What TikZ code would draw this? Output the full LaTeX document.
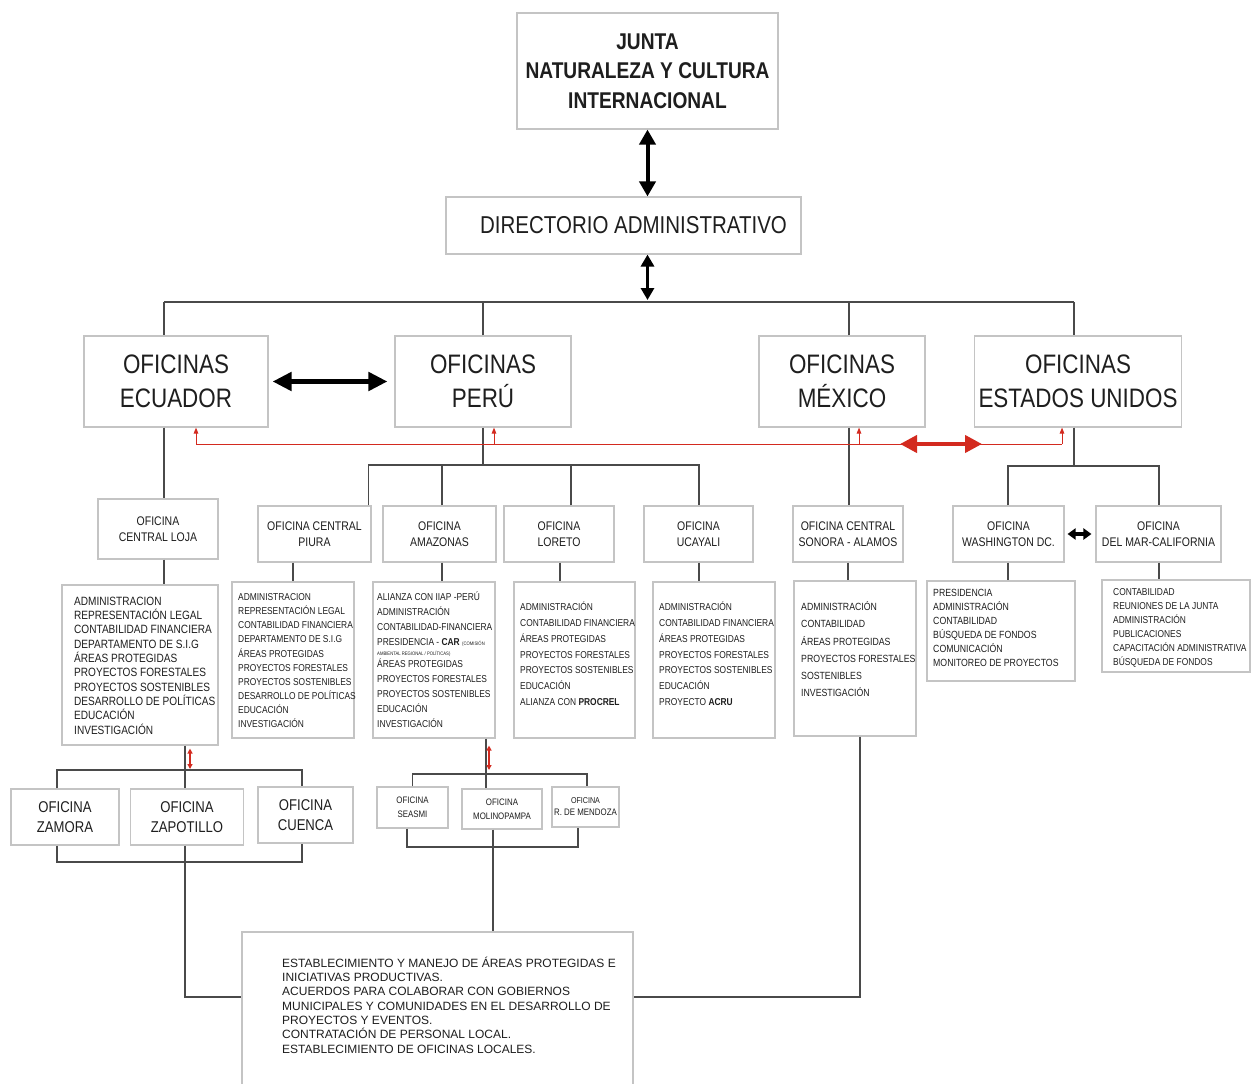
\documentclass[tikz,border=0pt]{standalone}
\usepackage{fontspec}
\setmainfont{Liberation Sans}[FakeStretch=0.84]
\newfontfamily\widefont{Liberation Sans}
\usetikzlibrary{arrows.meta}
\definecolor{boxc}{HTML}{C4C4C4}
\definecolor{linec}{HTML}{4A4A4A}
\definecolor{txt}{HTML}{1E1E1E}
\definecolor{redc}{HTML}{D32A1F}
\begin{document}
\begin{tikzpicture}[x=1pt,y=-1pt,
  box/.style={draw=boxc, line width=1.1pt, fill=white, inner sep=0pt, align=center, text=txt},
  conn/.style={draw=linec, line width=1.3pt},
  lst/.style={anchor=base west, align=left, inner sep=0pt, text=txt},
  head/.style={box, minimum height=91pt, font=\fontsize{26.7}{34}\selectfont},
  sub/.style={box, minimum height=56pt, font=\fontsize{12.5}{16}\selectfont},
  bigarrow/.style={draw=black, line width=4pt, {Triangle[length=15pt,width=16pt]}-{Triangle[length=15pt,width=16pt]}},
  redarrow/.style={draw=redc, line width=4pt, {Triangle[length=17pt,width=17pt]}-{Triangle[length=17pt,width=17pt]}},
  redup/.style={draw=redc, line width=1pt, -{Triangle[length=6pt,width=4.5pt]}},
  reddbl/.style={draw=redc, line width=1.6pt, {Triangle[length=5pt,width=5pt]}-{Triangle[length=5pt,width=5pt]}}
]
\useasboundingbox (0,0) rectangle (1258,1084);

% top
\node[box, minimum width=261pt, minimum height=116pt, font=\bfseries\fontsize{22.8}{29.5}\selectfont] (junta) at (647.5,71) {JUNTA\\NATURALEZA Y CULTURA\\INTERNACIONAL};
\node[box, minimum width=355pt, minimum height=57pt, font=\fontsize{24.4}{28}\selectfont] (dir) at (623.5,225.5) {\hspace*{20pt}DIRECTORIO ADMINISTRATIVO};

% heading offices
\node[head, minimum width=184pt] (ecu) at (176,381.5) {OFICINAS\\ECUADOR};
\node[head, minimum width=176pt] (peru) at (483,381.5) {OFICINAS\\PERÚ};
\node[head, minimum width=166pt] (mex) at (842,381.5) {OFICINAS\\MÉXICO};
\node[head, minimum width=207pt] (usa) at (1078,381.5) {OFICINAS\\ESTADOS UNIDOS};

% sub offices
\node[sub, minimum width=120pt, minimum height=60pt] (loja) at (158,529) {OFICINA\\CENTRAL LOJA};
\node[sub, minimum width=113pt] (piura) at (314.5,534) {OFICINA CENTRAL\\PIURA};
\node[sub, minimum width=113pt] (amaz) at (439.5,534) {OFICINA\\AMAZONAS};
\node[sub, minimum width=110pt] (loreto) at (559,534) {OFICINA\\LORETO};
\node[sub, minimum width=109pt] (ucay) at (698.5,534) {OFICINA\\UCAYALI};
\node[sub, minimum width=110pt] (sonora) at (848,534) {OFICINA CENTRAL\\SONORA - ALAMOS};
\node[sub, minimum width=111pt] (wash) at (1008.5,534) {OFICINA\\WASHINGTON DC.};
\node[sub, minimum width=125pt] (delmar) at (1158.5,534) {OFICINA\\DEL MAR-CALIFORNIA};

% list boxes
\node[box, minimum width=156pt, minimum height=160pt] (lojal) at (140,665) {};
\node[box, minimum width=122pt, minimum height=156pt] (piural) at (293,660) {};
\node[box, minimum width=122pt, minimum height=156pt] (amazl) at (434,660) {};
\node[box, minimum width=121pt, minimum height=156pt] (loretol) at (574.5,660) {};
\node[box, minimum width=122pt, minimum height=156pt] (ucayl) at (714,660) {};
\node[box, minimum width=122pt, minimum height=155pt] (sonoral) at (855,658.5) {};
\node[box, minimum width=148pt, minimum height=100pt] (washl) at (1001,631) {};
\node[box, minimum width=148pt, minimum height=92pt] (delmarl) at (1176,626) {};

% list texts (anchored at the baseline of the last line)
\node[lst, font=\fontsize{12}{14.3}\selectfont] (lojat) at (74,734) {ADMINISTRACION\\REPRESENTACIÓN LEGAL\\CONTABILIDAD FINANCIERA\\DEPARTAMENTO DE S.I.G\\ÁREAS PROTEGIDAS\\PROYECTOS FORESTALES\\PROYECTOS SOSTENIBLES\\DESARROLLO DE POLÍTICAS\\EDUCACIÓN\\INVESTIGACIÓN};
\node[lst, font=\fontsize{10}{14.1}\selectfont] (piurat) at (238,727.5) {ADMINISTRACION\\REPRESENTACIÓN LEGAL\\CONTABILIDAD FINANCIERA\\DEPARTAMENTO DE S.I.G\\ÁREAS PROTEGIDAS\\PROYECTOS FORESTALES\\PROYECTOS SOSTENIBLES\\DESARROLLO DE POLÍTICAS\\EDUCACIÓN\\INVESTIGACIÓN};
\node[lst, font=\fontsize{10}{15}\selectfont] (amazt) at (377,727.6) {ALIANZA CON IIAP -PERÚ\\ADMINISTRACIÓN\\CONTABILIDAD-FINANCIERA\\PRESIDENCIA - \textbf{CAR} {\fontsize{5}{6}\selectfont (COMISIÓN}\\[-5pt]{\fontsize{5}{6}\selectfont AMBIENTAL REGIONAL / POLÍTICAS)}\\[-3pt]ÁREAS PROTEGIDAS\\PROYECTOS FORESTALES\\PROYECTOS SOSTENIBLES\\EDUCACIÓN\\INVESTIGACIÓN};
\node[lst, font=\fontsize{10}{15.8}\selectfont] (loretot) at (520,705.4) {ADMINISTRACIÓN\\CONTABILIDAD FINANCIERA\\ÁREAS PROTEGIDAS\\PROYECTOS FORESTALES\\PROYECTOS SOSTENIBLES\\EDUCACIÓN\\ALIANZA CON \textbf{PROCREL}};
\node[lst, font=\fontsize{10}{15.8}\selectfont] (ucayt) at (659,705.4) {ADMINISTRACIÓN\\CONTABILIDAD FINANCIERA\\ÁREAS PROTEGIDAS\\PROYECTOS FORESTALES\\PROYECTOS SOSTENIBLES\\EDUCACIÓN\\PROYECTO \textbf{ACRU}};
\node[lst, font=\fontsize{10.4}{17.2}\selectfont] (sonorat) at (801,696.7) {ADMINISTRACIÓN\\CONTABILIDAD\\ÁREAS PROTEGIDAS\\PROYECTOS FORESTALES\\SOSTENIBLES\\INVESTIGACIÓN};
\node[lst, font=\fontsize{10.4}{14}\selectfont] (washt) at (933,666.8) {PRESIDENCIA\\ADMINISTRACIÓN\\CONTABILIDAD\\BÚSQUEDA DE FONDOS\\COMUNICACIÓN\\MONITOREO DE PROYECTOS};
\node[lst, font=\fontsize{10}{14}\selectfont] (delmart) at (1113,665.8) {CONTABILIDAD\\REUNIONES DE LA JUNTA\\ADMINISTRACIÓN\\PUBLICACIONES\\CAPACITACIÓN ADMINISTRATIVA\\BÚSQUEDA DE FONDOS};

% Ecuador local offices
\node[box, minimum width=108pt, minimum height=56pt, font=\fontsize{15.6}{19.5}\selectfont] (zamora) at (65,817) {OFICINA\\ZAMORA};
\node[box, minimum width=113pt, minimum height=56pt, font=\fontsize{15.6}{19.5}\selectfont] (zapo) at (187,817) {OFICINA\\ZAPOTILLO};
\node[box, minimum width=95pt, minimum height=56pt, font=\fontsize{15.6}{19.5}\selectfont] (cuenca) at (305.5,815) {OFICINA\\CUENCA};

% Peru local offices
\node[box, minimum width=71pt, minimum height=41pt, font=\fontsize{9.4}{14}\selectfont] (seasmi) at (412.5,807.5) {OFICINA\\SEASMI};
\node[box, minimum width=80pt, minimum height=40pt, font=\fontsize{9.4}{14}\selectfont] (molino) at (502,809) {OFICINA\\MOLINOPAMPA};
\node[box, minimum width=67pt, minimum height=40pt, font=\fontsize{9.4}{12}\selectfont] (mendoza) at (585.5,807) {{\fontsize{8.5}{12}\selectfont OFICINA}\\R. DE MENDOZA};

% final box
\node[box, minimum width=391pt, minimum height=158pt] (final) at (437.5,1011) {};
\node[lst, font=\widefont\fontsize{12}{14.3}\selectfont] (finalt) at (282,1053.1) {ESTABLECIMIENTO Y MANEJO DE ÁREAS PROTEGIDAS E\\INICIATIVAS PRODUCTIVAS.\\ACUERDOS PARA COLABORAR CON GOBIERNOS\\MUNICIPALES Y COMUNIDADES EN EL DESARROLLO DE\\PROYECTOS Y EVENTOS.\\CONTRATACIÓN DE PERSONAL LOCAL.\\ESTABLECIMIENTO DE OFICINAS LOCALES.};

% coordinates
\coordinate (tb1) at (164,302);
\coordinate (tb2) at (1074,302);
\coordinate (pbus) at (485,465);
\coordinate (ubus) at (1074,466);
\coordinate (ebus) at (185,770);
\coordinate (ebus2) at (185,862);
\coordinate (abus) at (486,774);
\coordinate (abus2) at (493,847);
\coordinate (rl) at (196,444);
\coordinate (rr) at (1062,444);

% top arrows
\draw[bigarrow] (junta.south) -- (junta.south |- dir.north);
\draw[bigarrow, line width=3.5pt, {Triangle[length=12pt,width=13pt]}-{Triangle[length=12pt,width=13pt]}] (dir.south -| junta.south) -- ([yshift=2pt]junta.south |- tb1);

% top bus
\draw[conn] (tb1) -- (tb2);
\draw[conn] (tb1) -- (tb1 |- ecu.north);
\draw[conn] (peru.north) -- (peru.north |- tb1);
\draw[conn] ([xshift=7pt]mex.north) -- ([xshift=7pt]mex.north |- tb1);
\draw[conn] (tb2) -- (tb2 |- usa.north);

% Ecuador - Peru arrow
\draw[bigarrow, line width=5pt, {Triangle[length=19pt,width=18pt]}-{Triangle[length=19pt,width=18pt]}] ([xshift=4pt]ecu.east) -- ([xshift=-7pt]peru.west);

% Ecuador branch
\draw[conn] (tb1 |- ecu.south) -- (tb1 |- loja.north);
\draw[conn] (tb1 |- loja.south) -- (tb1 |- lojal.north);
\draw[conn] (ebus |- lojal.south) -- (ebus |- zapo.north);
\draw[conn] ([xshift=-8pt]zamora.north) |- (ebus) -| ([xshift=-3.5pt]cuenca.north);
\draw[conn] ([xshift=-8pt]zamora.south) |- (ebus2) -| ([xshift=-3.5pt]cuenca.south);
\draw[conn] (ebus |- zapo.south) |- ([yshift=14pt]final.west);
\draw[reddbl] ([xshift=5pt,yshift=-3pt]ebus |- lojal.south) -- ([xshift=5pt,yshift=1pt]ebus);

% Peru branch
\draw[conn] (peru.south) -- (peru.south |- pbus);
\draw[conn] ([xshift=-3pt]piura.north east) |- (pbus) -| ([xshift=0.5pt]ucay.north);
\draw[conn] ([xshift=2.5pt]amaz.north) -- ([xshift=2.5pt]amaz.north |- pbus);
\draw[conn] ([xshift=12pt]loreto.north) -- ([xshift=12pt]loreto.north |- pbus);
\draw[conn] (piura.south -| piural.north) -- (piural.north);
\draw[conn] ([xshift=2.5pt]amaz.south) -- ([xshift=2.5pt]amaz.south |- amazl.north);
\draw[conn] ([xshift=1pt]loreto.south) -- ([xshift=1pt]loreto.south |- loretol.north);
\draw[conn] ([xshift=0.5pt]ucay.south) -- ([xshift=0.5pt]ucay.south |- ucayl.north);
\draw[conn] (abus |- amazl.south) -- (abus |- molino.north);
\draw[conn] (seasmi.north) |- (abus) -| ([xshift=1.5pt]mendoza.north);
\draw[conn] ([xshift=-5.5pt]seasmi.south) |- (abus2) -| ([xshift=-7.5pt]mendoza.south);
\draw[conn] (abus2 |- molino.south) -- (abus2 |- final.north);
\draw[reddbl] ([xshift=3pt,yshift=-7pt]abus |- amazl.south) -- ([xshift=3pt,yshift=4pt]abus);

% Mexico branch
\draw[conn] ([xshift=7pt]mex.south) -- ([xshift=7pt]mex.south |- sonora.north);
\draw[conn] (sonora.south) -- (sonora.south |- sonoral.north);
\draw[conn] ([xshift=5pt]sonoral.south) |- ([yshift=14pt]final.east);

% USA branch
\draw[conn] (ubus |- usa.south) -- (ubus);
\draw[conn] ([xshift=-0.5pt]wash.north) |- (ubus) -| ([xshift=0.5pt]delmar.north);
\draw[conn] ([xshift=-0.5pt]wash.south) -- ([xshift=-0.5pt]wash.south |- washl.north);
\draw[conn] ([xshift=0.5pt]delmar.south) -- ([xshift=0.5pt]delmar.south |- delmarl.north);
\draw[bigarrow, line width=3.5pt, {Triangle[length=8pt,width=11pt]}-{Triangle[length=8pt,width=11pt]}] ([xshift=3pt]wash.east) -- ([xshift=-4pt]delmar.west);

% red links
\draw[draw=redc, line width=1pt] (rl) -- (rr);
\draw[redup] (rl) -- (rl |- ecu.south);
\draw[redup] (494,444) -- ([xshift=11pt]peru.south);
\draw[redup] (859,444) -- ([xshift=17pt]mex.south);
\draw[redup] (rr) -- (rr |- usa.south);
\draw[redarrow] (900,444) -- (982,444);
\end{tikzpicture}
\end{document}
